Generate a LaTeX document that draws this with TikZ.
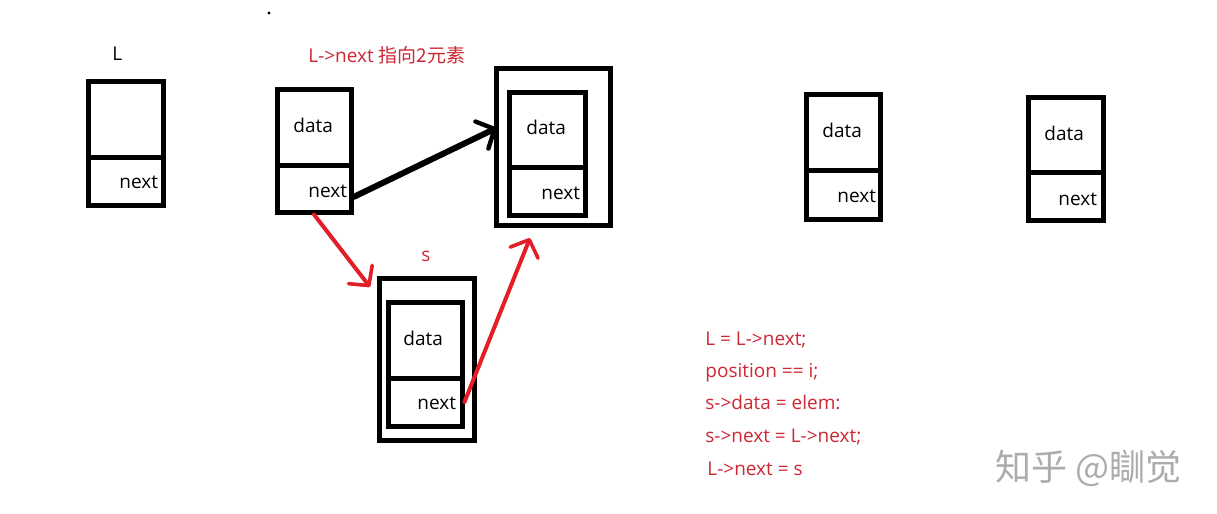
\documentclass[tikz,border=0pt]{standalone}
\usepackage{fontspec}
\setmainfont{Open Sans}
\newfontfamily\cjk{Noto Sans CJK SC}
\usetikzlibrary{arrows.meta}
\definecolor{arrred}{RGB}{226,30,40}
\definecolor{txtred}{RGB}{205,40,52}
\definecolor{wmgray}{RGB}{172,172,172}
\tikzset{
  cell/.style={draw=black,line width=2.5pt,inner sep=0pt,fill=none},
  lbl/.style={anchor=base west,inner sep=0pt,font=\fontsize{9.5}{11}\selectfont},
  redlbl/.style={lbl,text=txtred},
  blackarrow/.style={line width=3pt,line cap=round,-{Straight Barb[length=7pt,width=15pt,round,line width=2.2pt]}},
  redarrow/.style={draw=arrred,line width=2pt,line cap=round,-{Straight Barb[length=7pt,width=15pt,round,line width=1.8pt]}},
}
\newcommand\twocell[6]{%
  \pgfmathsetmacro\tcX{(#2+#3)/2}%
  \pgfmathsetmacro\tcW{(#3-#2)/2}%
  \pgfmathsetmacro\tcYa{(#4+#5)/2}%
  \pgfmathsetmacro\tcHa{(#5-#4)/2}%
  \pgfmathsetmacro\tcYb{(#5+#6)/2}%
  \pgfmathsetmacro\tcHb{(#6-#5)/2}%
  \node[cell,minimum width=\tcW pt,minimum height=\tcHa pt] (#1d) at (\tcX,\tcYa) {};
  \node[cell,minimum width=\tcW pt,minimum height=\tcHb pt] (#1n) at (\tcX,\tcYb) {};
}
\begin{document}
\begin{tikzpicture}[x=0.5pt,y=-0.5pt]
\useasboundingbox[fill=white] (0,0) rectangle (1217,514);

% stray dot
\fill (269,13) circle (0.8pt);

% boxes
\twocell{L}{88}{163}{81}{157}{205}
\twocell{B}{277}{351}{89}{165}{212}
\twocell{C}{509}{585}{92}{167}{215}
\node[cell,minimum width=57pt,minimum height=78.5pt] (F3) at (553,146.5) {};
\twocell{S}{388}{462}{302}{378}{426}
\node[cell,minimum width=47.5pt,minimum height=81pt] (FS) at (426.5,359) {};
\twocell{D}{806}{880}{94}{170}{219}
\twocell{E}{1028}{1103}{97}{172}{220}

% cell texts
\node[lbl] (tLn) at (119,188) {next};
\node[lbl] (tBd) at (293,132) {data};
\node[lbl] (tBn) at (308,197) {next};
\node[lbl] (tCd) at (526,134) {data};
\node[lbl] (tCn) at (541,199) {next};
\node[lbl] (tSd) at (403,345) {data};
\node[lbl] (tSn) at (417,409) {next};
\node[lbl] (tDd) at (822,137) {data};
\node[lbl] (tDn) at (837,202) {next};
\node[lbl] (tEd) at (1044,140) {data};
\node[lbl] (tEn) at (1058,205) {next};

% labels
\node[lbl] (labL) at (112,61) {L};
\node[redlbl] (labS) at (421,261) {s};
\node[redlbl] (title) at (308,62) {L->next {\cjk 指向2元素}};

% code
\node[redlbl] (c1) at (705,345) {L = L->next;};
\node[redlbl] (c2) at (705,377) {position == i;};
\node[redlbl] (c3) at (705,409) {s->data = elem:};
\node[redlbl] (c4) at (705,442) {s->next = L->next;};
\node[redlbl] (c5) at (707,475) {L->next = s};

% arrows
\draw[blackarrow] ([yshift=-4.25pt]Bn.east) -- ([xshift=1.5pt,yshift=9.25pt]F3.west);
\draw[redarrow] (Bn.south) -- ([xshift=-3.25pt,yshift=-5.75pt]FS.north west);
\draw[redarrow] (Sn.east) -- ([xshift=-11.5pt,yshift=-5.25pt]F3.south);

% watermark
\node[anchor=base west,inner sep=0pt,text=wmgray,font=\cjk\fontsize{18}{21}\selectfont] (wm) at (995,480) {知乎 @瞓觉};
\end{tikzpicture}
\end{document}
